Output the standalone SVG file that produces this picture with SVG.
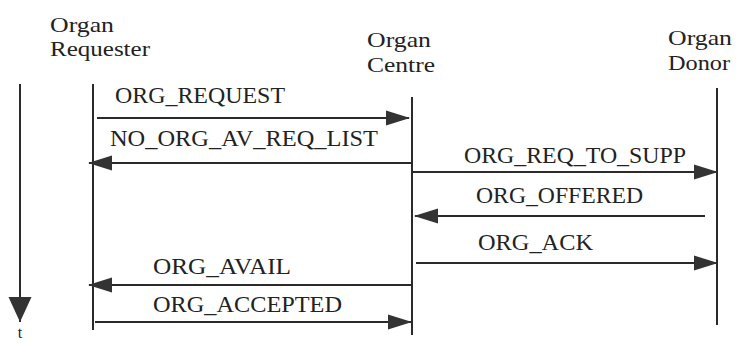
<svg xmlns="http://www.w3.org/2000/svg" width="736" height="343" viewBox="0 0 736 343">
<style>
.hdr{font-family:"Liberation Serif","Times New Roman",serif;font-size:22px;fill:#222}
.lbl{font-family:"Liberation Serif","Times New Roman",serif;font-size:24px;fill:#222}
.life{stroke:#2a2a2a;stroke-width:2;fill:none}
.msg{stroke:#2a2a2a;stroke-width:2;fill:none;marker-end:url(#ah)}
</style>
<defs>
<marker id="ah" markerUnits="userSpaceOnUse" markerWidth="24" markerHeight="16" refX="23" refY="8" orient="auto">
<path d="M0,0.5 L24,8 L0,15.5 z" fill="#333"/>
</marker>
<marker id="tah" markerUnits="userSpaceOnUse" markerWidth="24" markerHeight="26" refX="25" refY="12" orient="auto">
<path d="M0,0.5 L25,12 L0,23.5 z" fill="#333"/>
</marker>
</defs>
<rect width="736" height="343" fill="#fff"/>
<g id="time">
<line x1="20" y1="84" x2="20" y2="322" stroke="#2a2a2a" stroke-width="2" marker-end="url(#tah)"/>
<text class="hdr" x="20" y="338" text-anchor="middle" style="font-size:16px">t</text>
</g>
<g id="requester">
<text class="hdr" x="50" y="32" textLength="64" lengthAdjust="spacingAndGlyphs">Organ</text>
<text class="hdr" x="50" y="56" textLength="100" lengthAdjust="spacingAndGlyphs">Requester</text>
<line class="life" x1="93" y1="84" x2="93" y2="330"/>
</g>
<g id="centre">
<text class="hdr" x="367" y="47" textLength="64" lengthAdjust="spacingAndGlyphs">Organ</text>
<text class="hdr" x="367" y="72" textLength="68" lengthAdjust="spacingAndGlyphs">Centre</text>
<line class="life" x1="412" y1="97" x2="412" y2="335"/>
</g>
<g id="donor">
<text class="hdr" x="668" y="45" textLength="64" lengthAdjust="spacingAndGlyphs">Organ</text>
<text class="hdr" x="668" y="70" textLength="62" lengthAdjust="spacingAndGlyphs">Donor</text>
<line class="life" x1="717" y1="88" x2="717" y2="325"/>
</g>
<g id="connectors">
<line class="msg" x1="97" y1="118" x2="409" y2="118"/>
<text class="lbl" x="115" y="103" textLength="170" lengthAdjust="spacingAndGlyphs">ORG_REQUEST</text>
<line class="msg" x1="411" y1="163" x2="89" y2="163"/>
<text class="lbl" x="110" y="146" textLength="268" lengthAdjust="spacingAndGlyphs">NO_ORG_AV_REQ_LIST</text>
<line class="msg" x1="413" y1="172" x2="717" y2="172"/>
<text class="lbl" x="464" y="163" textLength="222" lengthAdjust="spacingAndGlyphs">ORG_REQ_TO_SUPP</text>
<line class="msg" x1="705" y1="216" x2="415" y2="216"/>
<text class="lbl" x="476" y="203" textLength="167" lengthAdjust="spacingAndGlyphs">ORG_OFFERED</text>
<line class="msg" x1="416" y1="263" x2="717" y2="263"/>
<text class="lbl" x="478" y="250" textLength="115" lengthAdjust="spacingAndGlyphs">ORG_ACK</text>
<line class="msg" x1="411" y1="285" x2="89" y2="285"/>
<text class="lbl" x="153" y="274" textLength="138" lengthAdjust="spacingAndGlyphs">ORG_AVAIL</text>
<line class="msg" x1="95" y1="322" x2="411" y2="322"/>
<text class="lbl" x="153" y="312" textLength="189" lengthAdjust="spacingAndGlyphs">ORG_ACCEPTED</text>
</g>
</svg>
